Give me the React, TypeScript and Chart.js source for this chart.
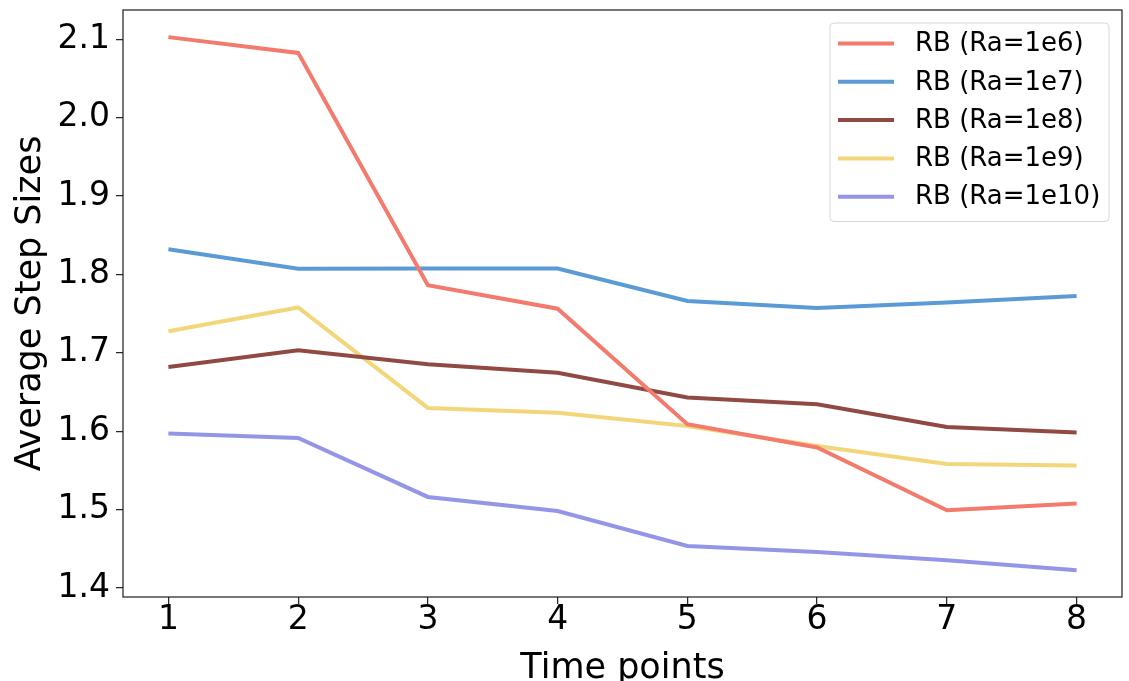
import React, { useEffect, useRef } from "react";
import { Chart, registerables } from "chart.js";

Chart.register(...registerables);

const timePoints = [1, 2, 3, 4, 5, 6, 7, 8];
const ra1e6 = [2.1026, 2.0825, 1.7862, 1.7563, 1.6089, 1.5792, 1.4992, 1.5078];
const ra1e7 = [1.8321, 1.8073, 1.8075, 1.8075, 1.7662, 1.7573, 1.7642, 1.7726];
const ra1e8 = [1.682, 1.7033, 1.6855, 1.6746, 1.643, 1.6344, 1.6055, 1.5983];
const ra1e9 = [1.7276, 1.7578, 1.6297, 1.6236, 1.6068, 1.5812, 1.5583, 1.5562];
const ra1e10 = [1.597, 1.5914, 1.5162, 1.4982, 1.4537, 1.446, 1.4355, 1.4227];
const seriesLabels = ["RB (Ra=1e6)", "RB (Ra=1e7)", "RB (Ra=1e8)", "RB (Ra=1e9)", "RB (Ra=1e10)"];
const seriesColors = ["#F27B6D", "#5B9BD5", "#914A43", "#F2D77A", "#9595E8"];
const yTicks = [1.4, 1.5, 1.6, 1.7, 1.8, 1.9, 2.0, 2.1];

const FONT = "'DejaVu Sans', sans-serif";

const framePlugin = {
  id: "frame",
  afterDatasetsDraw(chart: any) {
    const { ctx, chartArea: a } = chart;
    ctx.save();
    ctx.strokeStyle = "#262626";
    ctx.lineWidth = 1.25;
    ctx.strokeRect(a.left, a.top, a.right - a.left, a.bottom - a.top);
    ctx.restore();
  },
};

const legendPlugin = {
  id: "innerLegend",
  afterDraw(chart: any) {
    const { ctx, chartArea: a } = chart;
    const w = 279;
    const rowH = 38.3;
    const n = chart.data.datasets.length;
    const h = 7 + rowH * n;
    const x = a.right - 13 - w;
    const y = a.top + 13;
    ctx.save();
    ctx.beginPath();
    const r = 4;
    ctx.moveTo(x + r, y);
    ctx.lineTo(x + w - r, y);
    ctx.quadraticCurveTo(x + w, y, x + w, y + r);
    ctx.lineTo(x + w, y + h - r);
    ctx.quadraticCurveTo(x + w, y + h, x + w - r, y + h);
    ctx.lineTo(x + r, y + h);
    ctx.quadraticCurveTo(x, y + h, x, y + h - r);
    ctx.lineTo(x, y + r);
    ctx.quadraticCurveTo(x, y, x + r, y);
    ctx.closePath();
    ctx.fillStyle = "rgba(255,255,255,0.8)";
    ctx.fill();
    ctx.strokeStyle = "#d6d6d6";
    ctx.lineWidth = 1;
    ctx.stroke();
    ctx.font = `26px ${FONT}`;
    ctx.textBaseline = "middle";
    ctx.textAlign = "left";
    chart.data.datasets.forEach((ds: any, i: number) => {
      const cy = y + 20.5 + rowH * i;
      ctx.strokeStyle = ds.borderColor;
      ctx.lineWidth = 4;
      ctx.beginPath();
      ctx.moveTo(x + 8, cy);
      ctx.lineTo(x + 64, cy);
      ctx.stroke();
      ctx.fillStyle = "#000";
      ctx.fillText(ds.label, x + 85, cy + 1);
    });
    ctx.restore();
  },
};

export default function App() {
  const ref = useRef<HTMLCanvasElement | null>(null);
  useEffect(() => {
    if (!ref.current) return;
    const all = [ra1e6, ra1e7, ra1e8, ra1e9, ra1e10];
    const chart = new Chart(ref.current, {
      type: "line",
      data: {
        datasets: all.map((vals, i) => ({
          label: seriesLabels[i],
          data: timePoints.map((t, j) => ({ x: t, y: vals[j] })),
          borderColor: seriesColors[i],
          backgroundColor: seriesColors[i],
          borderWidth: 4,
          pointRadius: 0,
          tension: 0,
          fill: false,
        })),
      },
      options: {
        responsive: true,
        maintainAspectRatio: false,
        animation: false,
        layout: { autoPadding: false, padding: { top: 10, right: 7, left: 0, bottom: 0 } },
        plugins: { legend: { display: false }, tooltip: { enabled: false } },
        scales: {
          x: {
            type: "linear",
            min: 0.65,
            max: 8.35,
            afterBuildTicks: (s: any) => {
              s.ticks = timePoints.map((v) => ({ value: v }));
            },
            afterFit: (s: any) => {
              s.height = 84;
              s.paddingLeft = 0;
              s.paddingRight = 0;
            },
            border: { display: false },
            grid: {
              display: true,
              drawOnChartArea: false,
              drawTicks: true,
              tickLength: 7,
              tickColor: "#262626",
              lineWidth: 1.25,
            },
            ticks: {
              color: "#000",
              padding: 0,
              maxRotation: 0,
              font: { family: FONT, size: 33, lineHeight: 1 },
              callback: (v: any) => String(v),
            },
            title: {
              display: true,
              text: "Time points",
              color: "#000",
              font: { family: FONT, size: 35, lineHeight: 1 },
              padding: { top: 0, bottom: -5 },
            },
          },
          y: {
            type: "linear",
            min: 1.3886,
            max: 2.1372,
            afterBuildTicks: (s: any) => {
              s.ticks = yTicks.map((v) => ({ value: v }));
            },
            afterFit: (s: any) => {
              s.width = 123;
              s.paddingTop = 0;
              s.paddingBottom = 0;
            },
            border: { display: false },
            grid: {
              display: true,
              drawOnChartArea: false,
              drawTicks: true,
              tickLength: 7,
              tickColor: "#262626",
              lineWidth: 1.25,
            },
            ticks: {
              color: "#000",
              padding: 6,
              font: { family: FONT, size: 33, lineHeight: 1 },
              callback: (v: any) => Number(v).toFixed(1),
            },
            title: {
              display: true,
              text: "Average Step Sizes",
              color: "#000",
              font: { family: FONT, size: 35, lineHeight: 1.2 },
              padding: { top: 10, bottom: 0 },
            },
          },
        },
      },
      plugins: [framePlugin, legendPlugin],
    });
    return () => chart.destroy();
  }, []);
  return (
    <div style={{ position: "fixed", left: 0, top: 0, width: 1129, height: 681, background: "#fff" }}>
      <canvas ref={ref} />
    </div>
  );
}
